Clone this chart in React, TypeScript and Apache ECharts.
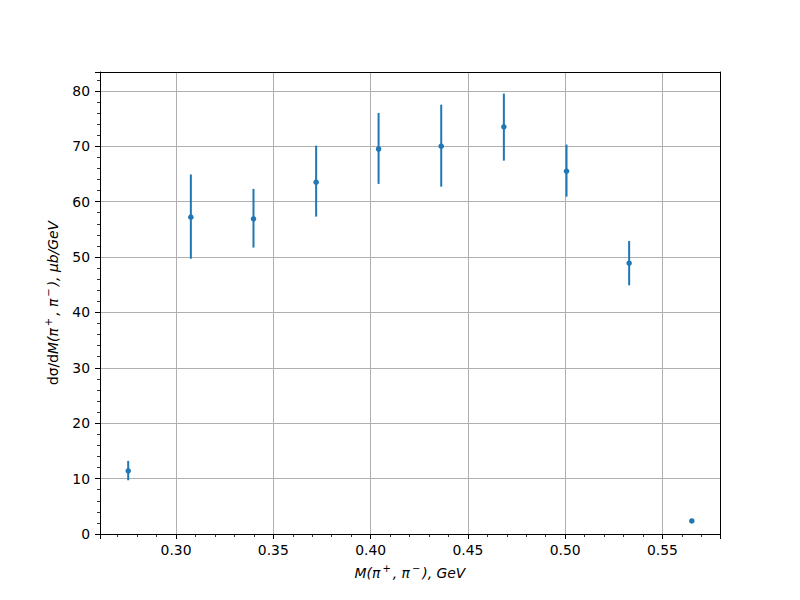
import React, { useEffect, useRef } from "react";
import * as echarts from "echarts";

const xValues = [0.2754, 0.3076, 0.3398, 0.372, 0.4041, 0.4363, 0.4685, 0.5007, 0.5329, 0.5651];
const yValues = [11.4, 57.2, 56.9, 63.5, 69.5, 70.0, 73.5, 65.5, 48.9, 2.35];
const yErrLow = [9.7, 49.7, 51.7, 57.3, 63.2, 62.7, 67.4, 60.9, 44.9, 2.1];
const yErrHigh = [13.2, 64.9, 62.3, 70.1, 76.0, 77.5, 79.5, 70.3, 52.9, 2.6];

const X_MIN = 0.2609;
const X_MAX = 0.5796;
const Y_MIN = 0;
const Y_MAX = 83.4;

const FONT = "DejaVu Sans";
const BLUE = "#1f77b4";

const richStyles = {
  up: { fontSize: 13.9, fontFamily: FONT, color: "#000", lineHeight: 19, verticalAlign: "middle" },
  it: { fontStyle: "italic", fontSize: 13.9, fontFamily: FONT, color: "#000", lineHeight: 19, verticalAlign: "middle" },
  sup: { fontSize: 10, fontFamily: FONT, color: "#000", lineHeight: 10, verticalAlign: "top", padding: [0, 2, 0, 2] },
};

export default function App() {
  const ref = useRef<HTMLDivElement>(null);
  useEffect(() => {
    if (!ref.current) return;
    const chart = echarts.init(ref.current, undefined, { renderer: "svg" });
    const points = xValues.map((x, i) => [x, yValues[i]]);
    const errs = xValues.map((x, i) => [x, yErrLow[i], yErrHigh[i]]);
    const axisBase = {
      axisLine: { show: true, onZero: false, lineStyle: { color: "#000", width: 1 } },
      axisTick: { show: true, length: 5, lineStyle: { color: "#000", width: 1 } },
      minorTick: { show: true, splitNumber: 5, length: 3, lineStyle: { color: "#000", width: 0.8 } },
      splitLine: { show: true, lineStyle: { color: "#b0b0b0", width: 1 } },
    };
    chart.setOption({
      animation: false,
      backgroundColor: "#fff",
      textStyle: { fontFamily: FONT },
      grid: { left: 100, right: 80, top: 72, bottom: 66, containLabel: false },
      xAxis: [
        {
          type: "value",
          min: X_MIN,
          max: X_MAX,
          minInterval: 0.05,
          maxInterval: 0.05,
          ...axisBase,
          axisLabel: {
            color: "#000",
            fontSize: 13.9,
            fontFamily: FONT,
            margin: 9,
            showMinLabel: false,
            showMaxLabel: false,
            formatter: (v: number) => v.toFixed(2),
          },
          name: "{it|M(π}{sup|+}{it|, π}{sup|−}{it|), GeV}",
          nameLocation: "middle",
          nameGap: 29,
          nameTextStyle: { rich: richStyles },
        },
        {
          type: "value",
          position: "top",
          min: X_MIN,
          max: X_MAX,
          axisLine: { show: true, onZero: false, lineStyle: { color: "#000", width: 1 } },
          axisTick: { show: false },
          axisLabel: { show: false },
          splitLine: { show: false },
        },
      ],
      yAxis: [
        {
          type: "value",
          min: Y_MIN,
          max: Y_MAX,
          interval: 10,
          ...axisBase,
          axisLabel: {
            color: "#000",
            fontSize: 13.9,
            fontFamily: FONT,
            margin: 10,
            showMaxLabel: false,
          },
          name: "{up|dσ/d}{it|M(π}{sup|+}{it|, π}{sup|−}{it|), μb/GeV}",
          nameLocation: "middle",
          nameRotate: 90,
          nameGap: 38,
          nameTextStyle: { rich: richStyles },
        },
        {
          type: "value",
          position: "right",
          min: Y_MIN,
          max: Y_MAX,
          axisLine: { show: true, onZero: false, lineStyle: { color: "#000", width: 1 } },
          axisTick: { show: false },
          axisLabel: { show: false },
          splitLine: { show: false },
        },
      ],
      series: [
        {
          type: "custom",
          xAxisIndex: 0,
          yAxisIndex: 0,
          data: errs,
          renderItem: (params: any, api: any) => {
            const x = api.value(0);
            const lo = api.coord([x, api.value(1)]);
            const hi = api.coord([x, api.value(2)]);
            return {
              type: "line",
              shape: { x1: lo[0], y1: lo[1], x2: hi[0], y2: hi[1] },
              style: { stroke: BLUE, lineWidth: 2 },
            };
          },
          z: 2,
        },
        {
          type: "scatter",
          xAxisIndex: 0,
          yAxisIndex: 0,
          data: points,
          symbol: "circle",
          symbolSize: 5.5,
          itemStyle: { color: BLUE, opacity: 1 },
          z: 3,
        },
      ],
    });
    return () => chart.dispose();
  }, []);
  return (
    <div
      ref={ref}
      style={{ position: "fixed", left: 0, top: 0, width: 800, height: 600, background: "#fff" }}
    />
  );
}
